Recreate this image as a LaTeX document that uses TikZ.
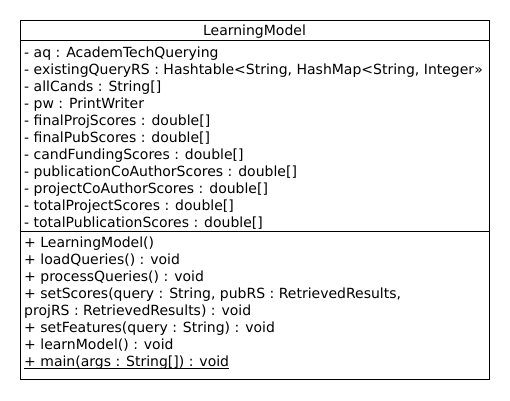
\documentclass[tikz,border=0pt]{standalone}
\usepackage{fontspec}
\setmainfont{DejaVu Sans}
\begin{document}
\begin{tikzpicture}[x=1bp,y=-1bp,
  txt/.style={anchor=base west,inner sep=0pt,font=\fontsize{14bp}{16bp}\selectfont},
  ttl/.style={anchor=base,inner sep=0pt,font=\fontsize{14bp}{16bp}\selectfont},
  box/.style={draw=black,line width=1bp}]
\useasboundingbox (0,0) rectangle (510,400);
\fill[white] (0,0) rectangle (510,400);
\coordinate (tl) at (20,20);
\coordinate (br) at (489,379);
\draw[box] (tl) rectangle (br);
\coordinate (s1l) at (20,40); \coordinate (s1r) at (489,40);
\coordinate (s2l) at (20,231); \coordinate (s2r) at (489,231);
\draw[box] (s1l) -- (s1r);
\draw[box] (s2l) -- (s2r);
\node[ttl] (title) at (254.5,35.5) {LearningModel};
\foreach \t [count=\i] in {
 {- aq : AcademTechQuerying},
 {- existingQueryRS : Hashtable<String, HashMap<String, Integer»},
 {- allCands : String[]},
 {- pw : PrintWriter},
 {- finalProjScores : double[]},
 {- finalPubScores : double[]},
 {- candFundingScores : double[]},
 {- publicationCoAuthorScores : double[]},
 {- projectCoAuthorScores : double[]},
 {- totalProjectScores : double[]},
 {- totalPublicationScores : double[]}}
 \node[txt] (a\i) at (24,{40+17*\i}) {\t};
\foreach \t [count=\i] in {
 {+ LearningModel()},
 {+ loadQueries() : void},
 {+ processQueries() : void},
 {+ setScores(query : String, pubRS : RetrievedResults,},
 {projRS : RetrievedResults) : void},
 {+ setFeatures(query : String) : void},
 {+ learnModel() : void}}
 \node[txt] (m\i) at (24,{230+17*\i}) {\t};
\node[txt] (m8) at (24,{230+17*8}) {+ main(args : String[]) : void};
\draw[line width=1bp] ([yshift=-2bp]m8.base west) -- ([yshift=-2bp]m8.base east);
\end{tikzpicture}
\end{document}
